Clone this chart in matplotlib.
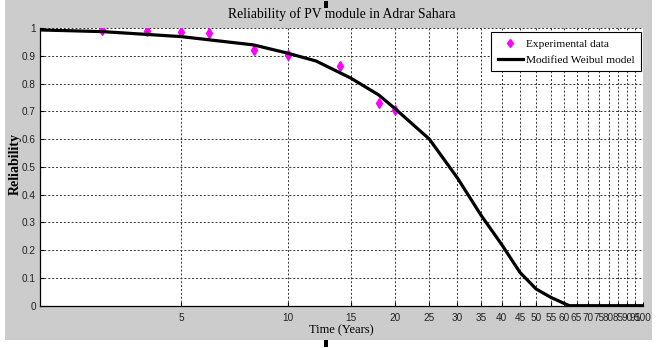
import matplotlib
matplotlib.use("Agg")
import matplotlib.pyplot as plt
from matplotlib.patches import Rectangle
from matplotlib.ticker import FixedLocator, FixedFormatter, NullLocator

# --- data ---
years_exp = [3, 4, 5, 6, 8, 10, 14, 18, 20]
rel_exp = [0.993, 0.99, 0.987, 0.983, 0.92, 0.903, 0.863, 0.731, 0.705]

years_fit = [2, 3, 5, 8, 10, 12, 15, 18, 20, 25, 30, 35, 40, 45, 50, 55, 60, 62,
             65, 70, 75, 80, 85, 90, 95, 100]
rel_fit = [0.993, 0.987, 0.969, 0.939, 0.909, 0.881, 0.82, 0.759, 0.71, 0.60,
           0.46, 0.325, 0.22, 0.12, 0.06, 0.03, 0.008, 0.0,
           0.0, 0.0, 0.0, 0.0, 0.0, 0.0, 0.0, 0.0]

x_ticks = [5, 10, 15, 20, 25, 30, 35, 40, 45, 50, 55, 60, 65, 70, 75, 80, 85,
           90, 95, 100]
y_ticks = [0, 0.1, 0.2, 0.3, 0.4, 0.5, 0.6, 0.7, 0.8, 0.9, 1]
y_labels = ["0", "0.1", "0.2", "0.3", "0.4", "0.5", "0.6", "0.7", "0.8", "0.9", "1"]

SERIF = ["Liberation Serif", "DejaVu Serif"]
NARROW = ["Liberation Sans Narrow", "Liberation Sans", "DejaVu Sans"]
GRAY = "#cccccc"

fig = plt.figure(figsize=(6.61, 3.48), dpi=100, facecolor="white")
# matlab-like grey figure panel (leaves a thin white margin right/bottom)
fig.add_artist(Rectangle((5 / 661, 8 / 348), 647 / 661, 340 / 348,
                         transform=fig.transFigure, facecolor=GRAY,
                         edgecolor="none", zorder=-5))
# little selection handles above and below the axes
fig.add_artist(Rectangle((324 / 661, 340 / 348), 4 / 661, 7 / 348,
                         transform=fig.transFigure, facecolor="black",
                         edgecolor="none", zorder=5))
fig.add_artist(Rectangle((324 / 661, 1 / 348), 4 / 661, 7 / 348,
                         transform=fig.transFigure, facecolor="black",
                         edgecolor="none", zorder=5))

ax = fig.add_axes([40 / 661, 1 - 305.7 / 348, 603 / 661, 277.7 / 348])
ax.set_zorder(1)
ax.set_facecolor("white")

ax.plot(years_exp, rel_exp, linestyle="none", marker="d", markersize=5.5,
        color="#ff00ff", markeredgecolor="#ff00ff", label="Experimental data",
        zorder=3)
ax.plot(years_fit, rel_fit, color="black", linewidth=2.3,
        label="Modified Weibul model", zorder=4)

ax.set_xscale("log")
ax.set_xlim(2, 100)
ax.set_ylim(0, 1)

ax.xaxis.set_major_locator(FixedLocator(x_ticks))
ax.xaxis.set_major_formatter(FixedFormatter([str(t) for t in x_ticks]))
ax.xaxis.set_minor_locator(NullLocator())
ax.yaxis.set_major_locator(FixedLocator(y_ticks))
ax.yaxis.set_major_formatter(FixedFormatter(y_labels))

ax.grid(True, which="major", linestyle=(0, (2, 2)), color="#333333",
        linewidth=0.7)
ax.tick_params(direction="in", length=3, width=0.8, labelsize=7.2)
ax.tick_params(axis="x", pad=5)
ax.tick_params(axis="y", pad=3)
for lab in ax.get_xticklabels() + ax.get_yticklabels():
    lab.set_family(NARROW)
    lab.set_color("#222222")

ax.spines["top"].set_visible(False)
ax.spines["right"].set_visible(False)
ax.spines["left"].set_linewidth(0.9)
ax.spines["bottom"].set_linewidth(0.9)

ax.set_title("Reliability of PV module in Adrar Sahara", family=SERIF,
             fontsize=9.8, pad=7)
ax.set_xlabel("Time (Years)", family=SERIF, fontsize=9, labelpad=1)
ax.set_ylabel("Reliability", family=SERIF, fontsize=10, fontweight="bold")
ax.yaxis.set_label_coords(-0.031, 0.51)

leg = ax.legend(loc="upper right", bbox_to_anchor=(0.997, 0.985),
                prop={"family": SERIF, "size": 8.2}, frameon=True,
                fancybox=False, framealpha=1, edgecolor="black",
                borderpad=0.6, handlelength=2.2, handletextpad=0.25,
                labelspacing=0.5, borderaxespad=0, markerscale=0.8)
leg.get_frame().set_linewidth(0.8)

fig.savefig("out.png", dpi=100, facecolor="white")
